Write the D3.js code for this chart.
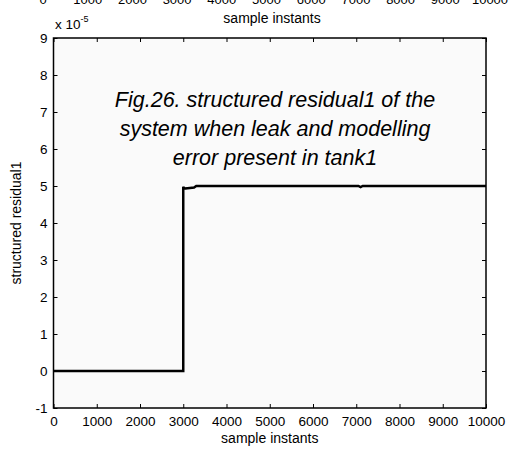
<!DOCTYPE html>
<html><head><meta charset="utf-8">
<script src="https://cdn.jsdelivr.net/npm/d3@7"></script>
<style>
body{margin:0;background:#fff;}
svg{display:block;}
text{font-family:"Liberation Sans",Arial,sans-serif;fill:#000;}
</style></head>
<body>
<script>
// data (residual in units of 1e-5)
const sampleX = [0, 3000, 3000, 3020, 3100, 3250, 3300, 5000, 7050, 7100, 7150, 10000];
const residual = [0, 0, 4.98, 4.93, 4.94, 4.96, 5.0, 5.0, 5.0, 4.97, 5.0, 5.0];
const xTicks = [0,1000,2000,3000,4000,5000,6000,7000,8000,9000,10000];
const yTicks = [-1,0,1,2,3,4,5,6,7,8,9];
const captionLines = ["Fig.26. structured residual1 of the", "system when leak and modelling", "error present in tank1"];
const xLabel = "sample instants";
const yLabel = "structured residual1";

const W = 522, H = 452;
const m = {left: 53.5, right: 486, top: 38, bottom: 408};
const svg = d3.select("body").append("svg").attr("width", W).attr("height", H);

const x = d3.scaleLinear().domain([0, 10000]).range([m.left, m.right]);
const y = d3.scaleLinear().domain([-1, 9]).range([m.bottom, m.top]);

// stray header from previous figure (cut off at top, as in the reference)
const xTop = d3.scaleLinear().domain([0, 10000]).range([43, 490]);
svg.append("g").selectAll("text").data(xTicks).join("text")
  .attr("x", d => xTop(d)).attr("y", 4).attr("text-anchor", "middle")
  .attr("font-size", 13).text(d => String(d));
svg.append("text").attr("x", 272).attr("y", 23).attr("text-anchor", "middle")
  .attr("font-size", 14).text(xLabel);

// plot background
svg.append("rect").attr("x", m.left).attr("y", m.top)
  .attr("width", m.right - m.left).attr("height", m.bottom - m.top)
  .attr("fill", "#fafafa");

// axes
const tickLen = 4;
const gB = svg.append("g").attr("transform", `translate(0,${m.bottom})`)
  .call(d3.axisBottom(x).tickValues(xTicks).tickSize(-tickLen).tickPadding(8).tickFormat(d => String(d)));
const gT = svg.append("g").attr("transform", `translate(0,${m.top})`)
  .call(d3.axisTop(x).tickValues(xTicks).tickSize(-tickLen).tickFormat(""));
const gL = svg.append("g").attr("transform", `translate(${m.left},0)`)
  .call(d3.axisLeft(y).tickValues(yTicks).tickSize(-tickLen).tickPadding(6).tickFormat(d => String(d)));
const gR = svg.append("g").attr("transform", `translate(${m.right},0)`)
  .call(d3.axisRight(y).tickValues(yTicks).tickSize(-tickLen).tickFormat(""));
[gB, gT, gL, gR].forEach(g => {
  g.select(".domain").remove();
  g.selectAll("line").attr("stroke", "#000").attr("stroke-width", 1);
  g.selectAll("text").attr("font-size", 13.5).attr("font-family", "Liberation Sans, Arial, sans-serif");
});
gB.selectAll(".tick text").attr("dy", "0.71em");

// box
svg.append("rect").attr("x", m.left).attr("y", m.top)
  .attr("width", m.right - m.left).attr("height", m.bottom - m.top)
  .attr("fill", "none").attr("stroke", "#000").attr("stroke-width", 1.5);

// data line
const pts = sampleX.map((d, i) => [d, residual[i]]);
svg.append("path").datum(pts)
  .attr("d", d3.line().x(d => x(d[0])).y(d => y(d[1])))
  .attr("fill", "none").attr("stroke", "#000").attr("stroke-width", 2.5)
  .attr("stroke-linejoin", "miter");

// exponent label
const ex = svg.append("text").attr("x", 55).attr("y", 29).attr("font-size", 13.5);
ex.append("tspan").text("x 10");
ex.append("tspan").attr("dy", -7).attr("font-size", 9).text("-5");

// axis labels
svg.append("text").attr("x", (m.left + m.right) / 2).attr("y", 443)
  .attr("text-anchor", "middle").attr("font-size", 14).text(xLabel);
svg.append("text").attr("transform", `translate(21,${(m.top + m.bottom) / 2}) rotate(-90)`)
  .attr("text-anchor", "middle").attr("font-size", 14).text(yLabel);

// caption
svg.append("g").selectAll("text").data(captionLines).join("text")
  .attr("x", 275).attr("y", (d, i) => 107 + i * 29)
  .attr("text-anchor", "middle").attr("font-size", 21.5)
  .attr("font-style", "italic").text(d => d);
</script>
</body></html>
